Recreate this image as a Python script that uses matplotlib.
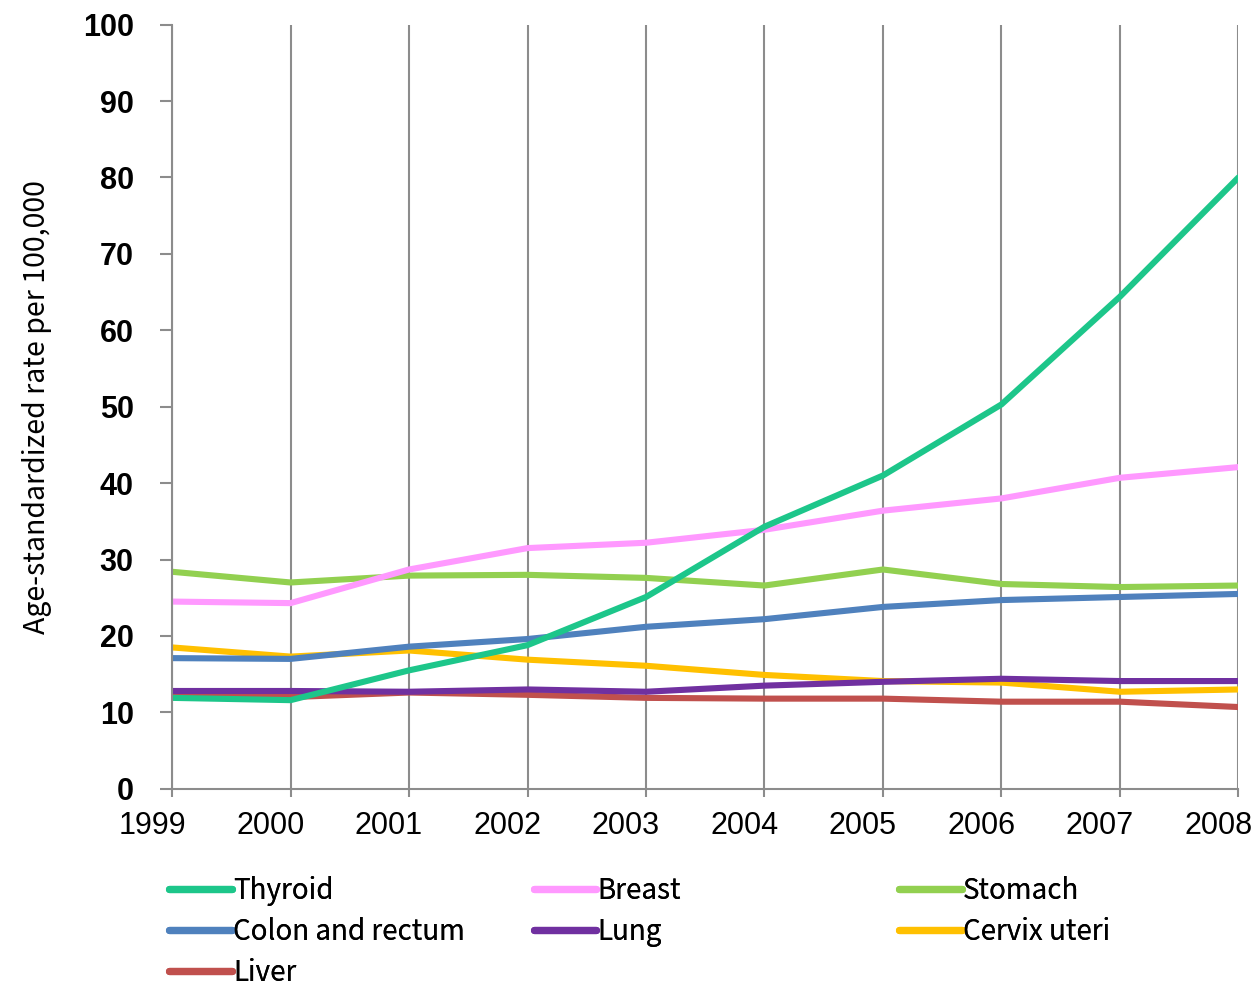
import matplotlib
matplotlib.use('Agg')
import matplotlib.pyplot as plt
import matplotlib.transforms as mtransforms

years = [1999, 2000, 2001, 2002, 2003, 2004, 2005, 2006, 2007, 2008]

thyroid = [11.9, 11.6, 15.5, 18.8, 25.1, 34.3, 41.0, 50.3, 64.4, 80.0]
breast = [24.5, 24.3, 28.7, 31.5, 32.2, 33.9, 36.4, 38.0, 40.7, 42.1]
stomach = [28.4, 27.0, 27.9, 28.0, 27.6, 26.6, 28.7, 26.8, 26.4, 26.6]
colon = [17.1, 17.0, 18.6, 19.6, 21.2, 22.2, 23.8, 24.7, 25.1, 25.5]
lung = [12.8, 12.8, 12.7, 13.0, 12.7, 13.5, 14.0, 14.4, 14.1, 14.1]
cervix = [18.5, 17.3, 18.1, 16.9, 16.1, 14.9, 14.1, 13.9, 12.7, 13.0]
liver = [12.4, 12.0, 12.6, 12.3, 11.9, 11.8, 11.8, 11.4, 11.4, 10.7]

names = ['Thyroid', 'Breast', 'Stomach', 'Colon and rectum', 'Lung',
         'Cervix uteri', 'Liver']
colors = ['#1DC68A', '#FF99FF', '#92D050', '#4F81BD', '#7030A0',
          '#FFC000', '#C0504D']
series = [thyroid, breast, stomach, colon, lung, cervix, liver]

fig = plt.figure(figsize=(12.56, 9.86), dpi=100)
ax = fig.add_axes([0.137, 0.2, 0.849, 0.775])

# draw back to front so Thyroid ends up on top
handles = [None] * len(series)
for i in reversed(range(len(series))):
    ln, = ax.plot(years, series[i], color=colors[i], lw=4.4,
                  solid_capstyle='round', label=names[i])
    handles[i] = ln

ax.set_xlim(1999, 2008)
ax.set_ylim(0, 100)
ax.set_xticks(years)
ax.set_yticks(range(0, 101, 10))
ax.grid(axis='x', color='#8c8c8c', lw=1.5)
ax.set_axisbelow(True)

for s in ['top', 'right']:
    ax.spines[s].set_visible(False)
for s in ['left', 'bottom']:
    ax.spines[s].set_color('#8c8c8c')
    ax.spines[s].set_linewidth(1.5)

ax.tick_params(axis='y', direction='out', length=8.6, width=1.5,
               color='#8c8c8c', pad=19)
ax.tick_params(axis='x', direction='out', length=6, width=1.5,
               color='#8c8c8c', pad=10)
for t in ax.get_yticklabels():
    t.set_fontfamily('Liberation Sans')
    t.set_fontweight('bold')
    t.set_fontsize(22)
# year labels sit a little left of their tick
shift = mtransforms.ScaledTranslation(-20 / 100, 0, fig.dpi_scale_trans)
for t in ax.get_xticklabels():
    t.set_fontfamily('Liberation Sans')
    t.set_fontsize(22)
    t.set_transform(t.get_transform() + shift)

ax.set_ylabel('Age-standardized rate per 100,000', fontsize=20.5,
              fontfamily='Noto Sans CJK KR', labelpad=22)

# legend laid out row by row in three fixed columns
legend_cols = [[0, 3, 6], [1, 4], [2, 5]]
col_x = [0.126, 0.416, 0.707]
for x0, idx in zip(col_x, legend_cols):
    leg = fig.legend(handles=[handles[k] for k in idx],
                     labels=[names[k] for k in idx],
                     loc='upper left', bbox_to_anchor=(x0, 0.123),
                     frameon=False,
                     prop={'family': 'Noto Sans CJK KR', 'size': 20},
                     handlelength=2.25, handletextpad=0.05,
                     labelspacing=0.4, borderaxespad=0)
    for h in leg.get_lines():
        h.set_linewidth(5.2)
    fig.add_artist(leg)

fig.savefig('out.png', dpi=100)
